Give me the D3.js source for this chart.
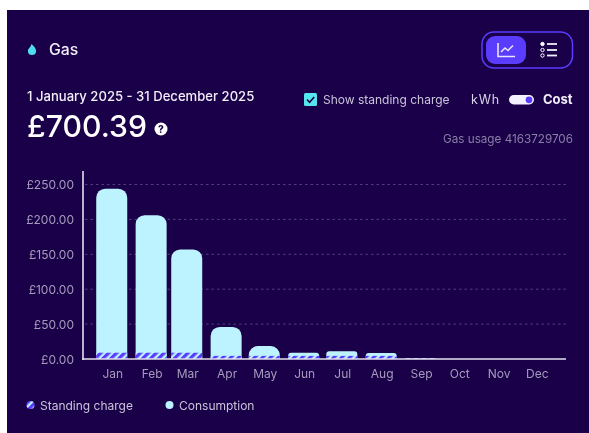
<!DOCTYPE html>
<html><head><meta charset="utf-8">
<script src="https://cdn.jsdelivr.net/npm/d3@7"></script>
<style>html,body{margin:0;padding:0;background:#fff;overflow:hidden}svg{display:block;filter:blur(0.35px)}text{font-family:"Inter","Noto Sans",sans-serif}</style>
</head><body><svg id="c" width="589" height="433"></svg>
<script>
const months=["Jan","Feb","Mar","Apr","May","Jun","Jul","Aug","Sep","Oct","Nov","Dec"];
const standingCharge=[9,9,9,4.5,4.5,4.5,4.5,4.5,1,0,0,0];
const consumption=[235,197,148,41.5,14,4.5,6.5,4,0,0,0,0];
const yTicks=[0,50,100,150,200,250];
const legendLabels=["Standing charge","Consumption"];

const BG="#1a0048",ICE="#bdf3ff",VIOLET="#5a3cff",MUTED="#a59cbd";
const svg=d3.select("#c");
const defs=svg.append("defs");
const pat=defs.append("pattern").attr("id","hatch").attr("width",5.6).attr("height",5.6)
  .attr("patternUnits","userSpaceOnUse").attr("patternTransform","rotate(45)");
pat.append("rect").attr("width",5.6).attr("height",5.6).attr("fill",ICE);
pat.append("rect").attr("width",3.3).attr("height",5.6).attr("fill",VIOLET);

svg.append("rect").attr("width",589).attr("height",433).attr("fill","#fff");
svg.append("rect").attr("x",7).attr("y",10).attr("width",582).attr("height",423).attr("fill",BG);

const dates=months.map((m,i)=>new Date(Date.UTC(2025,i,1)));
const x=d3.scaleUtc().domain([new Date(Date.UTC(2024,11,9)),new Date(Date.UTC(2025,11,24))]).range([82.5,565.5]);
const y=d3.scaleLinear().domain([0,250]).range([359,184.5]);
const barW=31;

// grid + y axis
const gy=svg.append("g").attr("transform","translate(83,0.5)")
  .call(d3.axisLeft(y).tickValues(yTicks).tickFormat(d=>"£"+d3.format(".2f")(d)).tickSize(0).tickPadding(9));
gy.select(".domain").remove();
gy.selectAll("text").attr("fill",MUTED).attr("font-size",12).attr("font-family","Inter");
svg.append("g").selectAll("line").data(yTicks.filter(d=>d>0)).join("line")
  .attr("x1",85).attr("x2",566).attr("y1",d=>y(d)).attr("y2",d=>y(d))
  .attr("stroke","#4f3d80").attr("stroke-width",1).attr("stroke-dasharray","2.5 3");

function topRound(x0,x1,y0,y1,r){
  r=Math.min(r,(x1-x0)/2,y0-y1);
  const p=d3.path();
  p.moveTo(x0,y0);p.lineTo(x0,y1+r);p.arcTo(x0,y1,x0+r,y1,r);
  p.lineTo(x1-r,y1);p.arcTo(x1,y1,x1,y1+r,r);p.lineTo(x1,y0);p.closePath();
  return p.toString();
}
const data=months.map((m,i)=>({m,date:dates[i],s:standingCharge[i],c:consumption[i]}));
svg.append("g").selectAll("path").data(data.filter(d=>d.s+d.c>0)).join("path")
  .attr("fill",ICE)
  .attr("d",d=>topRound(x(d.date)-barW/2,x(d.date)+barW/2,y(0),y(d.s+d.c),d.s+d.c>12?9:3));
svg.append("g").selectAll("rect").data(data.filter(d=>d.s>0)).join("rect")
  .attr("x",d=>x(d.date)-barW/2).attr("width",barW)
  .attr("y",d=>y(d.s)).attr("height",d=>y(0)-y(d.s)).attr("fill","url(#hatch)");

// x axis
const gx=svg.append("g").attr("transform","translate(0.5,359)")
  .call(d3.axisBottom(x).tickValues(dates).tickFormat((d,i)=>months[i]).tickSize(0).tickPadding(10));
gx.select(".domain").remove();
gx.selectAll("text").attr("fill",MUTED).attr("font-size",12).attr("font-family","Inter");
svg.append("line").attr("x1",83).attr("x2",83).attr("y1",171).attr("y2",360).attr("stroke","#e4e0ee").attr("stroke-width",1.6);
svg.append("line").attr("x1",82).attr("x2",566).attr("y1",359).attr("y2",359).attr("stroke","#e4e0ee").attr("stroke-width",1.6);

// header
function T(s,px,py,size,fill,opt={}){
  return svg.append("text").text(s).attr("x",px).attr("y",py).attr("font-size",size).attr("fill",fill)
    .attr("font-weight",opt.w||400).attr("text-anchor",opt.a||"start").attr("letter-spacing",opt.ls||0);
}
svg.append("path").attr("d","M31.5 44c2.6 2.6 4.6 4.6 4.6 7a4.1 4.1 0 0 1-8.2 0c0-2.6 3-3.8 3.6-7z").attr("fill","#4fdcf0");
T("Gas",49,55,15.8,"#f1eef8",{w:500});
T("1 January 2025 - 31 December 2025",27,101,13.1,"#f1eef8",{w:500});
T("£700.39",27,137,30.2,"#ffffff",{w:500});
svg.append("circle").attr("cx",161).attr("cy",129).attr("r",6.5).attr("fill","#fff");
T("?",161,133,10,BG,{w:800,a:"middle"});

// view switch
svg.append("rect").attr("x",482).attr("y",32).attr("width",90.5).attr("height",36).attr("rx",12).attr("fill","none").attr("stroke",VIOLET).attr("stroke-width",1.5);
svg.append("rect").attr("x",486).attr("y",36).attr("width",40).attr("height",28).attr("rx",9).attr("fill",VIOLET);
svg.append("path").attr("d","M498 43v13.5h17M501 52l4-4 3 2.5 5-5").attr("fill","none").attr("stroke","#e8e4ff").attr("stroke-width",1.6);
[44,50,55.5].forEach((cy,i)=>{
  svg.append("circle").attr("cx",542.5).attr("cy",cy).attr("r",1.7).attr("fill",i==0?"#fff":"none").attr("stroke","#fff").attr("stroke-width",1);
  svg.append("line").attr("x1",547).attr("x2",557).attr("y1",cy).attr("y2",cy).attr("stroke","#f1eef8").attr("stroke-width",1.8);
});

// checkbox + toggle
svg.append("rect").attr("x",304).attr("y",93).attr("width",13).attr("height",13).attr("rx",1.5).attr("fill","#55e6ee");
svg.append("path").attr("d","M307 99.5l2.6 2.7 4.6-5.2").attr("fill","none").attr("stroke",BG).attr("stroke-width",1.6);
T("Show standing charge",323,104,12,"#c9c3da");
T("kWh",471,104,12.5,"#d8d3e6",{ls:0.8});
svg.append("rect").attr("x",509).attr("y",95).attr("width",25).attr("height",9.5).attr("rx",4.75).attr("fill","#f4f2ff");
svg.append("circle").attr("cx",529).attr("cy",99.8).attr("r",3.4).attr("fill",VIOLET);
T("Cost",543,104,13,"#f1eef8",{w:700});
T("Gas usage 4163729706",573,143,11.7,"#8a7fa8",{a:"end"});

// legend
const lg=svg.append("g");
lg.append("circle").attr("cx",30.5).attr("cy",405).attr("r",4).attr("fill","url(#hatch)");
lg.append("circle").attr("cx",169.5).attr("cy",405).attr("r",4).attr("fill",ICE);
T(legendLabels[0],40,409.5,12,"#c9c3da");
T(legendLabels[1],179,409.5,12,"#c9c3da");
</script></body></html>
